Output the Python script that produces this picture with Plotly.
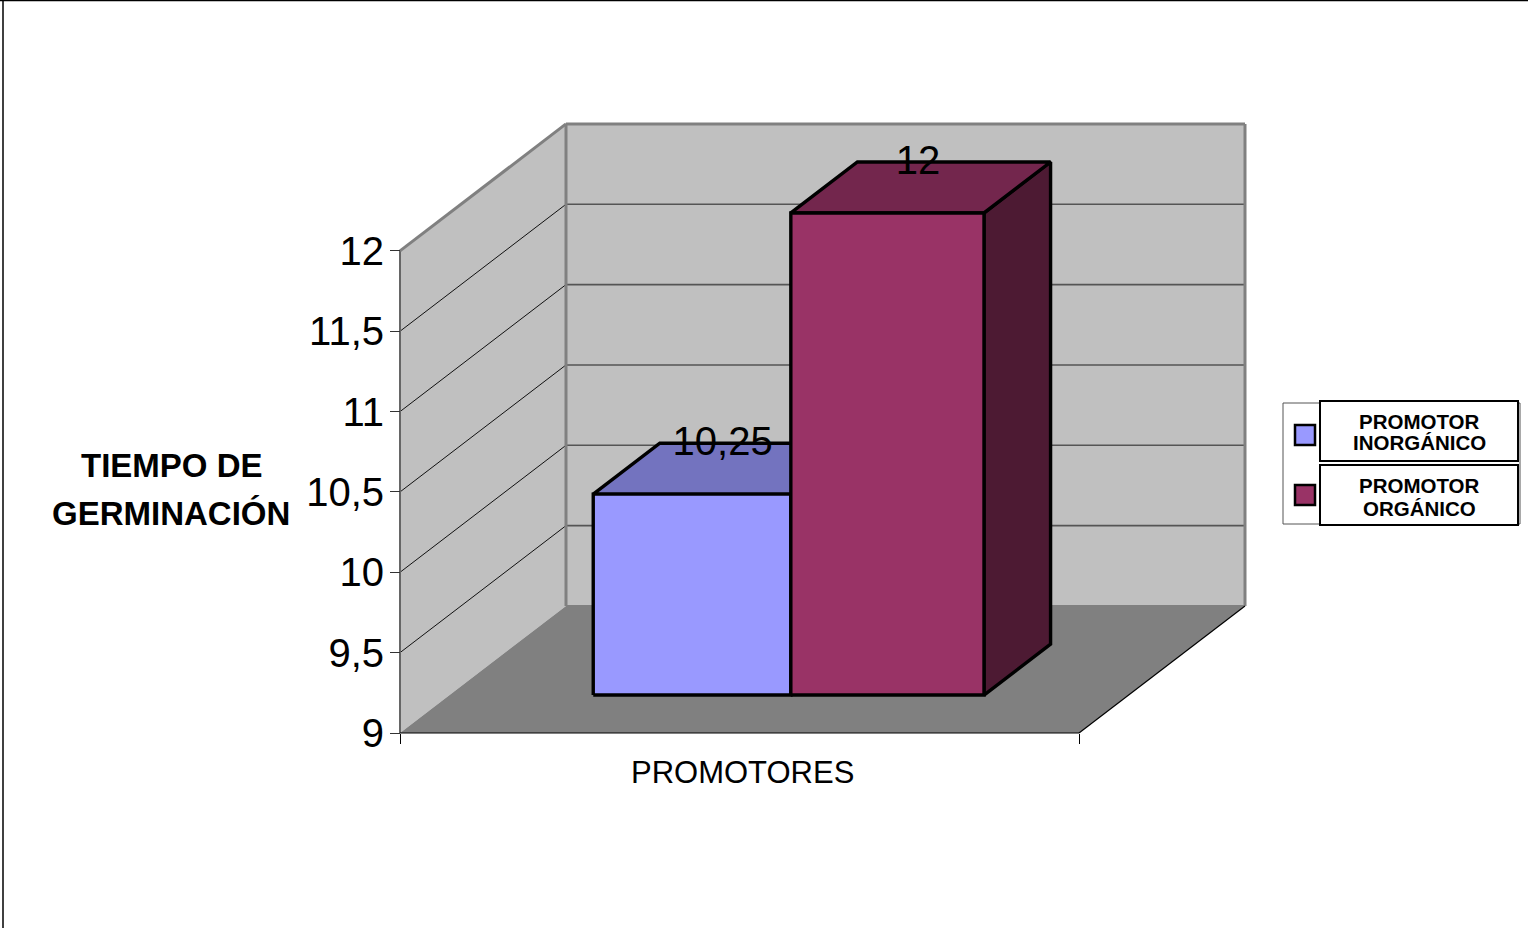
import plotly.graph_objects as go

# Chart data
categories = ["PROMOTOR INORGÁNICO", "PROMOTOR ORGÁNICO"]
germination_time = [10.25, 12]
value_labels = ["10,25", "12"]
tick_values = [9, 9.5, 10, 10.5, 11, 11.5, 12]
tick_labels = ["9", "9,5", "10", "10,5", "11", "11,5", "12"]
legend_lines = [["PROMOTOR", "INORGÁNICO"], ["PROMOTOR", "ORGÁNICO"]]

W, H = 1528, 928
FONT = "Liberation Sans"

# Oblique projection of the 3D box onto the flat axes.
# u runs along the category axis (0..1), v is the value, d is the depth (0..1).
AXIS_LEFT, AXIS_BOTTOM = 400, 733
PX_PER_U, PX_PER_V = 679, 160.7
DEPTH_X, DEPTH_Y = 166, 127
V_MIN, V_MAX = tick_values[0], tick_values[-1]


def project(u, v, d):
    return u + d * DEPTH_X / PX_PER_U, v + d * DEPTH_Y / PX_PER_V


def polygon(points, fill, line_color=None, line_width=0, name=""):
    xy = [project(*p) for p in points]
    xy.append(xy[0])
    return go.Scatter(
        x=[p[0] for p in xy], y=[p[1] for p in xy],
        mode="lines", fill="toself", fillcolor=fill, name=name,
        line=dict(color=line_color or fill, width=line_width),
        hoverinfo="skip", showlegend=False,
    )


def segment(a, b, color, width):
    xy = [project(*a), project(*b)]
    return go.Scatter(
        x=[p[0] for p in xy], y=[p[1] for p in xy], mode="lines",
        line=dict(color=color, width=width),
        hoverinfo="skip", showlegend=False,
    )


traces = [
    # Walls and floor
    polygon([(0, V_MIN, 0), (0, V_MAX, 0), (0, V_MAX, 1), (0, V_MIN, 1)], "#C0C0C0"),
    polygon([(0, V_MIN, 1), (0, V_MAX, 1), (1, V_MAX, 1), (1, V_MIN, 1)], "#C0C0C0"),
    polygon([(0, V_MIN, 0), (1, V_MIN, 0), (1, V_MIN, 1), (0, V_MIN, 1)], "#808080"),
]

# Gridlines across the side wall and the back wall
for v in tick_values[1:-1]:
    traces.append(segment((0, v, 0), (0, v, 1), "#111111", 1))
    traces.append(segment((0, v, 1), (1, v, 1), "#555555", 1.6))

# Wall outlines
traces += [
    segment((0, V_MIN, 0), (0, V_MAX, 0), "#666666", 2),
    segment((0, V_MAX, 0), (0, V_MAX, 1), "#808080", 3),
    segment((0, V_MIN, 1), (0, V_MAX, 1), "#808080", 3),
    segment((0, V_MAX, 1), (1, V_MAX, 1), "#808080", 3),
    segment((1, V_MIN, 1), (1, V_MAX, 1), "#808080", 3),
    segment((0, V_MIN, 1), (1, V_MIN, 1), "#808080", 2),
    segment((0, V_MIN, 0), (1, V_MIN, 0), "#000000", 1.2),
    segment((1, V_MIN, 0), (1, V_MIN, 1), "#000000", 1.2),
]

# Bars: side, top and front faces
BAR_EDGES = [0.2115, 0.5025, 0.787]
BAR_DEPTH = (0.299, 0.70)
BAR_COLORS = [
    ("#9999FF", "#7373BF", "#4D4D80"),
    ("#993366", "#73264D", "#4D1A33"),
]
OUTLINE = 3.4
for i, value in enumerate(germination_time):
    u0, u1 = BAR_EDGES[i], BAR_EDGES[i + 1]
    d0, d1 = BAR_DEPTH
    front, top, side = BAR_COLORS[i]
    traces += [
        polygon([(u1, V_MIN, d0), (u1, value, d0), (u1, value, d1), (u1, V_MIN, d1)],
                side, "#000000", OUTLINE),
        polygon([(u0, value, d0), (u1, value, d0), (u1, value, d1), (u0, value, d1)],
                top, "#000000", OUTLINE),
        polygon([(u0, V_MIN, d0), (u1, V_MIN, d0), (u1, value, d0), (u0, value, d0)],
                front, "#000000", OUTLINE, categories[i]),
    ]

# Value labels, sitting on the rear edge of each bar's top face
for i, value in enumerate(germination_time):
    u_mid = (BAR_EDGES[i] + BAR_EDGES[i + 1]) / 2 - 34 / PX_PER_U
    x, y = project(u_mid, value, BAR_DEPTH[1] - 0.012)
    traces.append(go.Scatter(
        x=[x], y=[y], mode="text", text=[value_labels[i]],
        textposition="middle center",
        textfont=dict(family=FONT, size=40, color="#000000"),
        hoverinfo="skip", showlegend=False,
    ))

fig = go.Figure(traces)


def px_x(p):
    return p / W


def px_y(p):
    return 1 - p / H


def box(x0, y0, x1, y1, fill="rgba(0,0,0,0)", color="#000000", width=1):
    return dict(type="rect", xref="paper", yref="paper",
                x0=px_x(x0), x1=px_x(x1), y0=px_y(y0), y1=px_y(y1),
                fillcolor=fill, line=dict(color=color, width=width))


def label(x, y, text, size, bold=False):
    return dict(xref="paper", yref="paper", x=px_x(x), y=px_y(y),
                xanchor="center", yanchor="middle", showarrow=False,
                text=f"<b>{text}</b>" if bold else text,
                font=dict(family=FONT, size=size, color="#000000"))


shapes = [
    # Chart-area border: only the top and left edges are drawn
    dict(type="line", xref="paper", yref="paper", x0=0, x1=1, y0=px_y(0.5), y1=px_y(0.5),
         line=dict(color="#000000", width=1.5)),
    dict(type="line", xref="paper", yref="paper", x0=px_x(3), x1=px_x(3), y0=0, y1=1,
         line=dict(color="#000000", width=1.5)),
    # Legend frame with a soft shadow on the right
    box(1283, 403, 1520, 524, fill="#FFFFFF", color="#555555", width=1),
    box(1320, 401, 1518, 461, fill="#FFFFFF", color="#000000", width=2),
    box(1320, 465, 1518, 525, fill="#FFFFFF", color="#000000", width=2),
    box(1295, 425, 1315, 445, fill=BAR_COLORS[0][0], color="#000000", width=2.5),
    box(1295, 485, 1315, 505, fill=BAR_COLORS[1][0], color="#000000", width=2.5),
]

annotations = [
    label(172, 465, "TIEMPO DE", 33, True),
    label(171, 513, "GERMINACIÓN", 33, True),
    label(742, 772, "PROMOTORES", 31),
    label(1419, 421, legend_lines[0][0], 20.5, True),
    label(1419, 443, legend_lines[0][1], 20.5, True),
    label(1419, 486, legend_lines[1][0], 20.5, True),
    label(1419, 508, legend_lines[1][1], 20.5, True),
]

fig.update_layout(
    width=W, height=H,
    margin=dict(l=0, r=0, t=0, b=0),
    paper_bgcolor="#FFFFFF", plot_bgcolor="#FFFFFF",
    showlegend=False, shapes=shapes, annotations=annotations,
    xaxis=dict(
        range=[-AXIS_LEFT / PX_PER_U, (W - AXIS_LEFT) / PX_PER_U],
        domain=[0, 1], anchor="free", position=(H - AXIS_BOTTOM) / H,
        showgrid=False, zeroline=False, showline=False,
        tickmode="array", tickvals=[0, 1], ticktext=["", ""],
        ticks="outside", ticklen=10, tickwidth=1, tickcolor="#000000",
    ),
    yaxis=dict(
        range=[V_MIN - (H - AXIS_BOTTOM) / PX_PER_V, V_MIN + AXIS_BOTTOM / PX_PER_V],
        domain=[0, 1], anchor="free", position=AXIS_LEFT / W,
        showgrid=False, zeroline=False, showline=False,
        tickmode="array", tickvals=tick_values, ticktext=tick_labels,
        ticks="outside", ticklen=10, tickwidth=1, tickcolor="#333333",
        ticklabelstandoff=-2,
        tickfont=dict(family=FONT, size=40, color="#000000"),
    ),
)

fig.write_html("out.html", config={"displayModeBar": False})
